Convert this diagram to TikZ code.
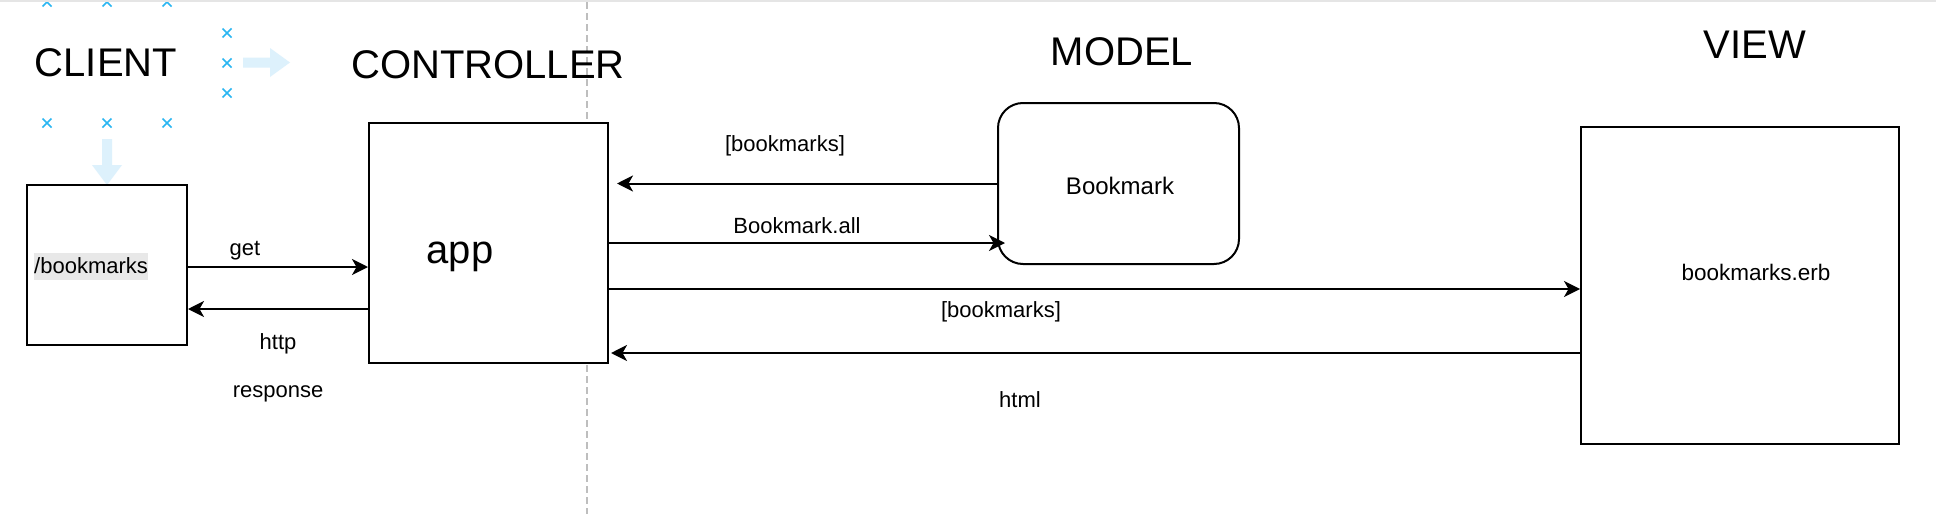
\documentclass[tikz,border=0pt]{standalone}
\usepackage{fontspec}
\setmainfont{Liberation Sans}
\usetikzlibrary{arrows.meta}
\definecolor{cpblue}{RGB}{41,182,242}
\definecolor{hintblue}{RGB}{221,241,252}
\definecolor{hl}{RGB}{232,232,232}
\definecolor{dashgray}{RGB}{190,190,190}
\definecolor{topbar}{RGB}{229,229,229}
\tikzset{
  box/.style={draw=black, line width=2pt, fill=white, inner sep=0pt},
  big/.style={font=\fontsize{40}{48}\selectfont, anchor=base, inner sep=0pt},
  lbl/.style={font=\fontsize{22}{26}\selectfont, anchor=base, inner sep=0pt},
  arr/.style={line width=2pt, -{Stealth[length=16pt,width=16pt,inset=4.5pt]}},
  cross/.style={draw=cpblue, line width=1.5pt},
  hint/.style={fill=hintblue, draw=none}
}
\begin{document}
\begin{tikzpicture}[x=1pt,y=-1pt]
\useasboundingbox (0,0) rectangle (1936,514);
\clip (0,0) rectangle (1936,514);
\fill[white] (0,0) rectangle (1936,514);

% separator
\draw[dashgray, line width=1.5pt, dash pattern=on 7pt off 4pt] (587,2) -- (587,514);

% connection hints
\foreach \cx/\cy in {47/2,107/2,167/2,47/123,107/123,167/123,227/33,227/63,227/93}
  \draw[cross] (\cx-4.5,\cy-4.5) -- (\cx+4.5,\cy+4.5) (\cx-4.5,\cy+4.5) -- (\cx+4.5,\cy-4.5);
\path[hint] (243,57.5) -- (270,57.5) -- (270,48) -- (290,62.5) -- (270,77) -- (270,67.5) -- (243,67.5) -- cycle;
\path[hint] (102,139) -- (112,139) -- (112,165) -- (122,165) -- (107,185) -- (92,165) -- (102,165) -- cycle;

% titles
\node[big] (tclient) at (106,76) {CLIENT};
\node[big] (tcontroller) at (488,78) {CONTROLLER};
\node[big] (tmodel) at (1122,65) {MODEL};
\node[big] (tview) at (1755,58) {VIEW};

% boxes
\node[box, minimum width=160pt, minimum height=160pt] (client) at (107,265) {};
\node[box, minimum width=239pt, minimum height=240pt] (app) at (488.5,243) {};
\node[box, rounded corners=25pt, minimum width=241pt, minimum height=161pt] (bm) at (1118.5,183.5) {};
\node[box, minimum width=318pt, minimum height=317pt] (view) at (1740,285.5) {};

% box texts
\node[font=\fontsize{22}{26}\selectfont, anchor=base west, fill=hl, inner xsep=0pt, inner ysep=0pt, text height=20pt, text depth=7pt] (tbm) at (34,273) {/bookmarks};
\node[big] (tapp) at (460,263) {app};
\node[lbl, font=\fontsize{24}{28}\selectfont] (tbmk) at (1120,194) {Bookmark};
\node[lbl, font=\fontsize{22.5}{27}\selectfont] (terb) at (1756,280) {bookmarks.erb};

% helper coordinates
\coordinate (y243) at (0,243);
\coordinate (y267) at (0,267);
\coordinate (y289) at (0,289);
\coordinate (y309) at (0,309);
\coordinate (y353) at (0,353);

% connectors
\draw[arr] (client.east |- y267) -- (app.west |- y267);
\draw[arr] (app.west |- y309) -- (client.east |- y309);
\draw[arr] (bm.west) -- ([xshift=8pt]app.east |- bm.west);
\draw[arr] (app.east |- y243) -- ([xshift=8pt]bm.west |- y243);
\draw[arr] (app.east |- y289) -- (view.west |- y289);
\draw[arr] (view.west |- y353) -- ([xshift=2pt]app.east |- y353);

% connector labels
\node[lbl] (lget) at (245,255) {get};
\node[lbl] (lhttp) at (278,349) {http};
\node[lbl] (lresp) at (278,397) {response};
\node[lbl] (lbm1) at (785,151) {[bookmarks]};
\node[lbl] (lall) at (797,233) {Bookmark.all};
\node[lbl] (lbm2) at (1001,317.5) {[bookmarks]};
\node[lbl] (lhtml) at (1020,407.5) {html};

% top bar
\fill[topbar] (0,0) rectangle (1936,2);
\end{tikzpicture}
\end{document}
